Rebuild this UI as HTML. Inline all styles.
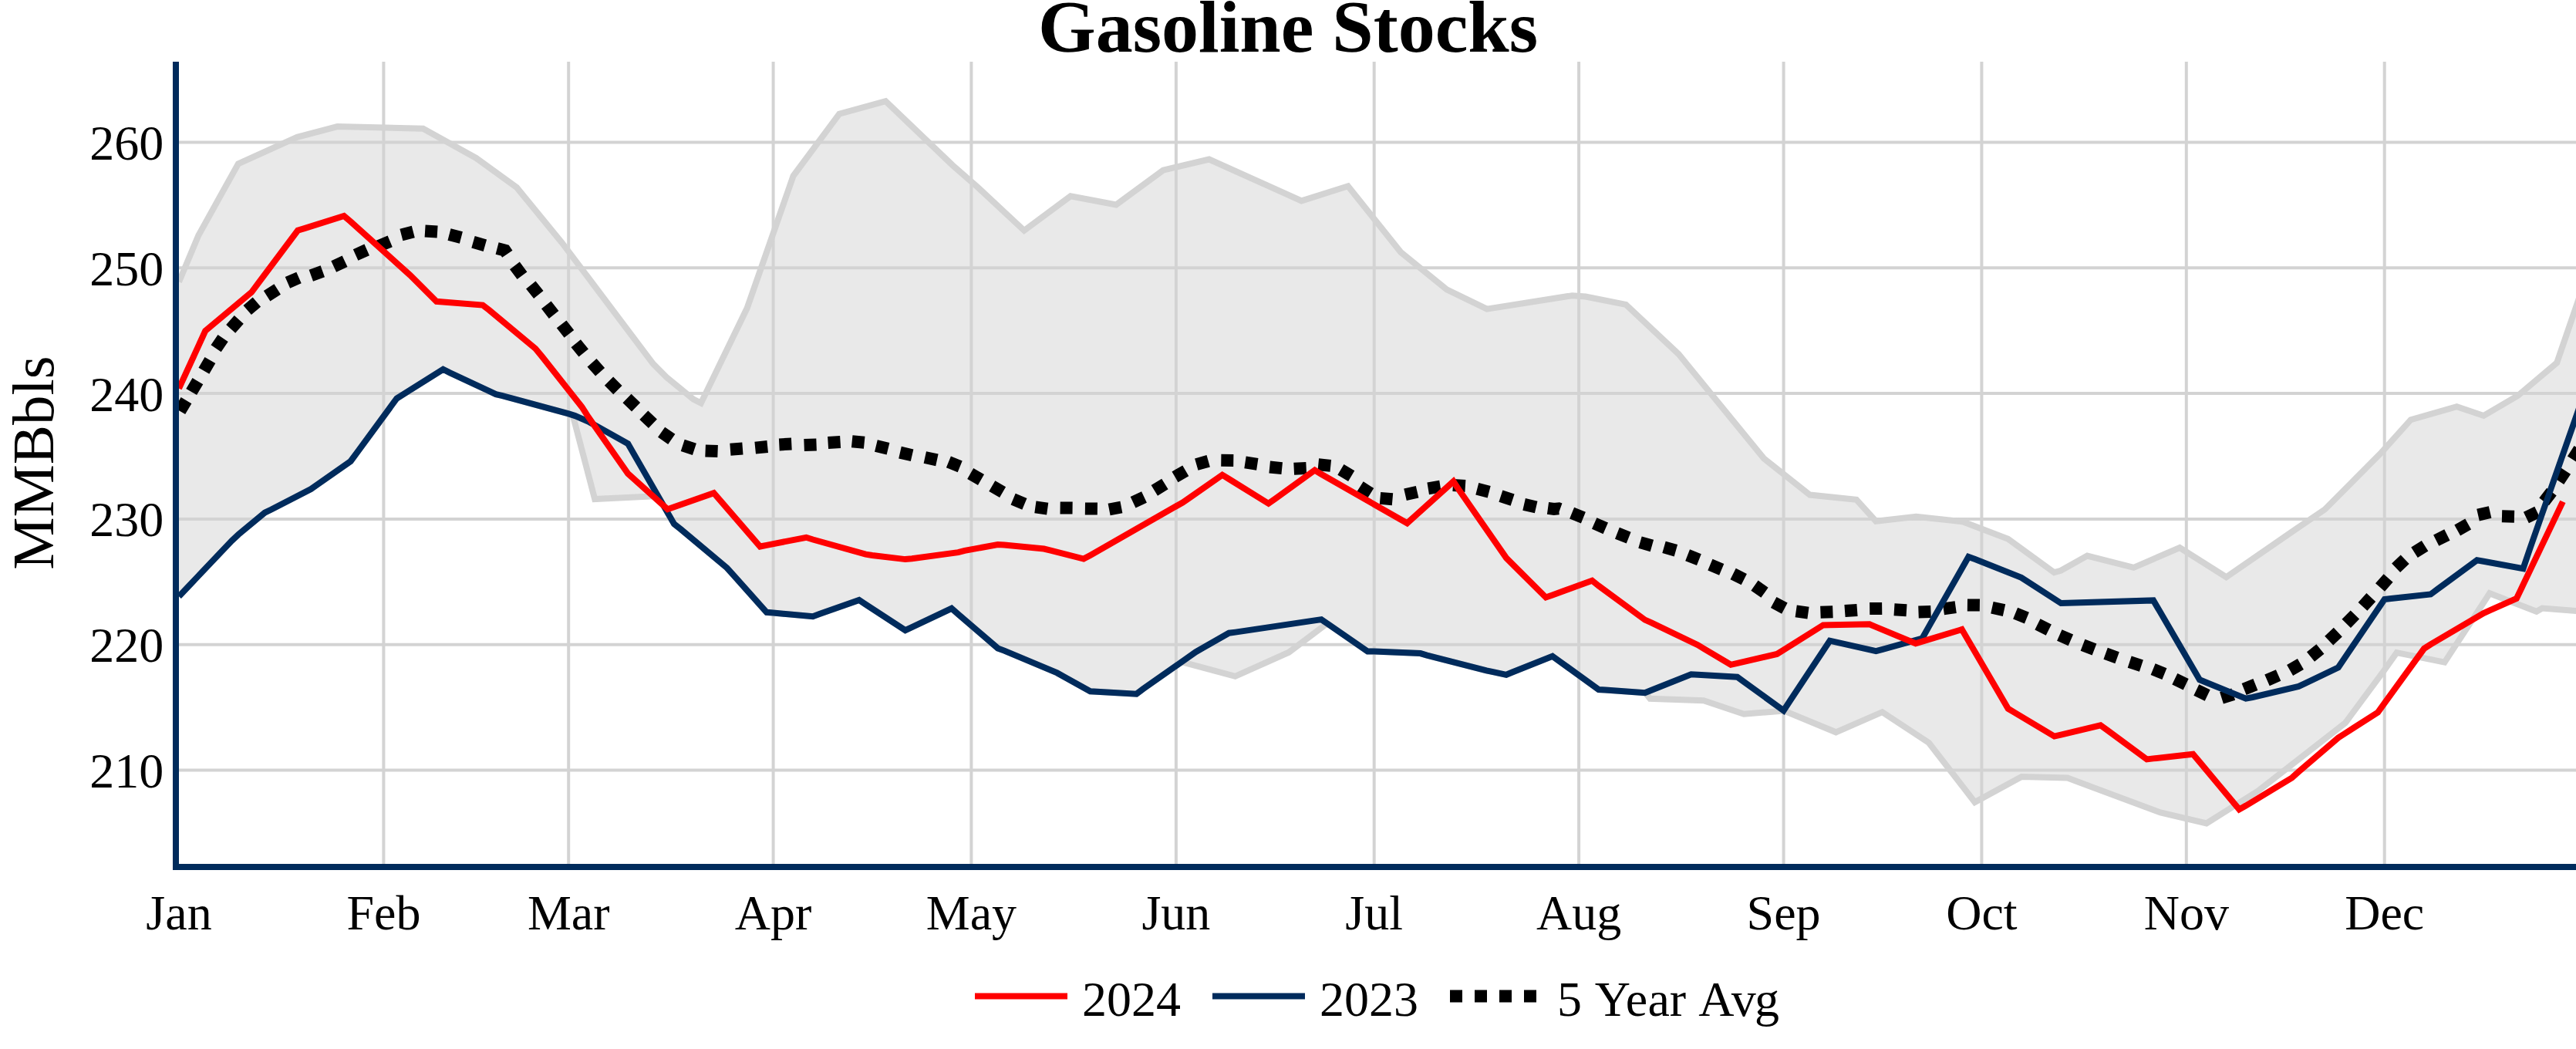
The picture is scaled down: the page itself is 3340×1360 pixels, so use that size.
<!DOCTYPE html>
<html lang="en"><head><meta charset="utf-8"><title>Gasoline Stocks</title>
<style>html,body{margin:0;padding:0;background:#fff}svg{display:block}text{font-family:"Liberation Serif", "Times New Roman", Times, serif;fill:#000}</style></head><body>
<svg width="3340" height="1360" viewBox="0 0 3340 1360">
<rect width="3340" height="1360" fill="#fff"/>
<defs><clipPath id="plot"><rect x="232" y="80" width="3108" height="1040"/></clipPath></defs>
<g stroke="#d3d3d3" stroke-width="4" fill="none">
<line x1="497.4" y1="80" x2="497.4" y2="1120"/>
<line x1="737.2" y1="80" x2="737.2" y2="1120"/>
<line x1="1002.6" y1="80" x2="1002.6" y2="1120"/>
<line x1="1259.4" y1="80" x2="1259.4" y2="1120"/>
<line x1="1524.9" y1="80" x2="1524.9" y2="1120"/>
<line x1="1781.7" y1="80" x2="1781.7" y2="1120"/>
<line x1="2047.1" y1="80" x2="2047.1" y2="1120"/>
<line x1="2312.6" y1="80" x2="2312.6" y2="1120"/>
<line x1="2569.4" y1="80" x2="2569.4" y2="1120"/>
<line x1="2834.8" y1="80" x2="2834.8" y2="1120"/>
<line x1="3091.7" y1="80" x2="3091.7" y2="1120"/>
<line x1="232" y1="998.5" x2="3340" y2="998.5"/>
<line x1="232" y1="835.7" x2="3340" y2="835.7"/>
<line x1="232" y1="672.9" x2="3340" y2="672.9"/>
<line x1="232" y1="510.1" x2="3340" y2="510.1"/>
<line x1="232" y1="347.3" x2="3340" y2="347.3"/>
<line x1="232" y1="184.5" x2="3340" y2="184.5"/>
</g>
<g clip-path="url(#plot)" fill="none" stroke-linejoin="miter" stroke-miterlimit="2">
<path d="M232.0,365.5L257.3,305.2L308.9,212.3L385.2,177.8L437.4,164.1L548.6,166.8L617.4,204.9L669.9,243.0L728.6,314.6L846.8,471.7L864.2,489.1L899.0,517.6L908.9,522.6L968.6,399.6L1028.6,228.0L1088.2,147.7L1148.3,131.1L1234.8,214.0L1268.0,243.0L1327.9,298.9L1388.1,254.2L1447.2,265.4L1508.1,220.7L1567.7,206.5L1687.5,260.4L1747.8,241.3L1816.1,326.8L1875.8,375.3L1927.9,400.6L2038.5,383.2L2055.9,384.5L2108.1,394.9L2176.4,459.0L2287.0,594.4L2346.6,641.6L2407.0,647.8L2432.3,675.7L2484.5,669.7L2545.3,676.4L2603.7,698.8L2663.4,742.2L2672.0,739.8L2706.3,720.6L2766.5,735.8L2826.2,710.0L2886.5,748.2L2973.3,688.4L3014.3,660.5L3087.6,586.7L3125.8,544.2L3185.4,527.2L3220.3,539.0L3264.6,513.0L3315.2,470.3L3340.0,398.1L3352.0,363.0L3352.0,792.5L3340.0,792.0L3296.3,788.6L3288.8,792.8L3228.0,769.2L3169.6,858.6L3107.5,846.2L3090.7,870.0L3041.0,937.1L2927.9,1025.3L2860.9,1067.5L2801.2,1053.4L2680.7,1008.6L2621.2,1007.0L2560.5,1040.0L2500.9,963.0L2440.5,923.2L2380.4,949.3L2313.3,921.5L2261.1,925.7L2208.9,908.3L2139.4,905.8L2133.2,898.1L2132.8,898.2L2081.4,894.6L2072.8,894.0L2021.5,856.9L2012.9,850.7L1961.5,871.3L1953.0,874.8L1935.8,871.1L1927.3,869.3L1850.2,849.6L1841.7,847.1L1781.7,844.6L1773.2,844.6L1723.0,809.8L1719.0,809.5L1671.1,845.7L1601.5,876.8L1532.0,858.2L1482.0,893.3L1473.5,899.7L1422.1,896.8L1413.6,896.3L1379.3,877.2L1370.7,872.4L1302.2,843.6L1293.7,840.4L1242.3,796.2L1233.8,788.8L1182.4,813.2L1173.8,817.2L1122.4,783.6L1113.9,778.0L1062.5,796.1L1054.0,799.2L1002.6,794.5L994.0,793.8L951.2,745.9L942.6,736.3L882.7,686.2L874.1,679.4L853.2,643.0L771.2,647.0L742.6,538.1L737.2,536.4L651.5,513.1L643.0,511.1L583.0,483.1L574.5,478.8L523.1,511.1L514.5,516.5L463.2,586.4L454.6,598.0L411.8,628.0L403.2,634.0L351.9,660.5L343.3,664.6L309.1,693.0L300.5,701.1L232.0,773.2Z" fill="#d3d3d3" fill-opacity="0.5" stroke="none"/>
<path d="M232.0,365.5L257.3,305.2L308.9,212.3L385.2,177.8L437.4,164.1L548.6,166.8L617.4,204.9L669.9,243.0L728.6,314.6L846.8,471.7L864.2,489.1L899.0,517.6L908.9,522.6L968.6,399.6L1028.6,228.0L1088.2,147.7L1148.3,131.1L1234.8,214.0L1268.0,243.0L1327.9,298.9L1388.1,254.2L1447.2,265.4L1508.1,220.7L1567.7,206.5L1687.5,260.4L1747.8,241.3L1816.1,326.8L1875.8,375.3L1927.9,400.6L2038.5,383.2L2055.9,384.5L2108.1,394.9L2176.4,459.0L2287.0,594.4L2346.6,641.6L2407.0,647.8L2432.3,675.7L2484.5,669.7L2545.3,676.4L2603.7,698.8L2663.4,742.2L2672.0,739.8L2706.3,720.6L2766.5,735.8L2826.2,710.0L2886.5,748.2L2973.3,688.4L3014.3,660.5L3087.6,586.7L3125.8,544.2L3185.4,527.2L3220.3,539.0L3264.6,513.0L3315.2,470.3L3340.0,398.1L3352.0,363.0" stroke="#d3d3d3" stroke-width="8"/>
<path d="M232.0,773.2L300.5,701.1L309.1,693.0L343.3,664.6L351.9,660.5L403.2,634.0L411.8,628.0L454.6,598.0L463.2,586.4L514.5,516.5L523.1,511.1L574.5,478.8L583.0,483.1L643.0,511.1L651.5,513.1L737.2,536.4L742.6,538.1L771.2,647.0L853.2,643.0L874.1,679.4L882.7,686.2L942.6,736.3L951.2,745.9L994.0,793.8L1002.6,794.5L1054.0,799.2L1062.5,796.1L1113.9,778.0L1122.4,783.6L1173.8,817.2L1182.4,813.2L1233.8,788.8L1242.3,796.2L1293.7,840.4L1302.2,843.6L1370.7,872.4L1379.3,877.2L1413.6,896.3L1422.1,896.8L1473.5,899.7L1482.0,893.3L1532.0,858.2L1601.5,876.8L1671.1,845.7L1719.0,809.5L1723.0,809.8L1773.2,844.6L1781.7,844.6L1841.7,847.1L1850.2,849.6L1927.3,869.3L1935.8,871.1L1953.0,874.8L1961.5,871.3L2012.9,850.7L2021.5,856.9L2072.8,894.0L2081.4,894.6L2132.8,898.2L2133.2,898.1L2139.4,905.8L2208.9,908.3L2261.1,925.7L2313.3,921.5L2380.4,949.3L2440.5,923.2L2500.9,963.0L2560.5,1040.0L2621.2,1007.0L2680.7,1008.6L2801.2,1053.4L2860.9,1067.5L2927.9,1025.3L3041.0,937.1L3090.7,870.0L3107.5,846.2L3169.6,858.6L3228.0,769.2L3288.8,792.8L3296.3,788.6L3340.0,792.0L3352.0,792.5" stroke="#d3d3d3" stroke-width="8"/>
<path d="M233.3,532.9L241.5,519.1M248.2,508.0L256.4,494.2M264.4,480.7L272.4,466.9M280.1,451.8L289.1,438.6M299.2,426.4L309.8,414.4M320.7,402.0L332.9,391.6M346.1,383.7L359.7,375.1M372.9,366.4L387.5,360.0M403.3,357.2L418.3,351.8M432.7,345.5L447.1,338.7M461.1,330.5L475.7,323.9M490.9,319.1L505.7,312.9M520.4,304.4L535.8,300.4M551.1,299.4L567.1,300.4M582.5,304.1L597.9,308.1M613.5,313.8L628.9,318.2M644.6,322.1L652.3,324.1L654.8,324.7L657.8,329.2M667.4,344.4L677.0,357.2M688.3,369.5L698.3,381.9M708.3,395.4L718.1,408.0M728.1,420.3L737.9,432.9M746.7,445.2L756.7,457.6M767.5,470.3L778.1,482.3M789.5,494.2L800.9,505.6M813.0,516.6L824.6,527.8M834.8,538.2L846.4,549.2M857.6,560.2L870.8,569.4M885.2,577.3L900.4,582.3M914.6,584.4L930.6,585.0M946.9,582.8L962.9,581.6M979.2,580.6L995.2,579.0M1010.3,576.4L1026.3,575.6M1042.6,577.1L1058.6,576.5M1073.6,574.0L1089.6,573.0M1104.7,572.2L1120.7,573.8M1135.9,577.9L1151.5,581.7M1167.0,586.6L1182.6,590.2M1199.3,593.0L1214.9,596.4M1229.9,598.9L1244.7,604.9M1258.2,614.0L1272.0,622.0M1286.3,630.2L1300.1,638.2M1313.6,647.2L1328.4,653.4M1342.4,657.4L1358.2,659.6M1374.6,658.4L1390.6,658.6M1406.9,659.4L1422.9,659.6M1438.1,660.5L1453.9,657.5M1469.1,651.2L1483.5,644.4M1496.8,635.9L1510.4,627.5M1523.5,618.3L1537.3,610.3M1551.3,602.1L1566.7,597.7M1583.3,596.8L1599.3,597.0M1614.5,599.4L1630.3,601.8M1646.2,605.5L1662.2,607.1M1677.7,607.7L1693.7,606.9M1709.3,602.3L1725.3,603.9M1738.4,608.9L1752.2,617.1M1763.4,631.1L1777.0,639.7M1789.5,645.9L1805.5,647.3M1822.0,641.3L1837.6,637.7M1851.7,633.3L1867.5,630.7M1883.9,629.1L1899.9,630.1M1915.3,633.8L1930.7,637.8M1945.9,643.2L1961.1,648.2M1976.1,653.9L1991.7,657.5M2007.0,658.8L2014.9,659.9L2021.1,659.4L2022.8,660.0M2038.1,665.1L2052.9,671.1M2067.2,678.5L2081.8,684.9M2096.9,691.3L2111.7,697.1M2126.5,703.1L2141.9,707.5M2157.5,709.4L2172.9,713.8M2188.1,719.8L2202.9,725.6M2217.4,732.1L2232.2,738.3M2247.1,744.0L2261.3,751.2M2275.0,759.1L2288.0,768.3M2299.7,781.0L2313.9,788.6M2328.7,792.4L2344.5,794.6M2360.4,793.8L2376.4,793.2M2392.0,792.1L2408.0,790.9M2424.2,789.1L2440.2,788.9M2456.0,790.2L2472.0,791.2M2487.5,793.5L2503.5,792.9M2519.9,789.3L2535.7,787.1M2550.9,784.4L2566.9,784.6M2582.9,787.7L2598.5,791.1M2613.1,795.1L2627.9,801.1M2641.9,809.4L2656.3,816.6M2670.3,823.5L2684.9,829.9M2700.5,836.2L2715.5,842.0M2730.1,847.3L2745.1,852.7M2761.2,858.1L2776.4,863.1M2791.6,867.6L2806.4,873.6M2819.8,880.2L2834.2,887.2M2847.8,894.5L2862.2,901.5M2880.5,904.9L2895.7,900.1M2909.6,893.5L2924.4,887.5M2939.5,881.9L2954.1,875.5M2969.1,869.0L2982.9,861.0M2996.0,851.4L3008.4,841.4M3019.7,830.6L3031.3,819.6M3042.2,808.4L3053.4,797.0M3063.5,786.3L3074.3,774.5M3086.0,761.5L3096.6,749.5M3106.6,736.2L3118.2,725.2M3130.5,716.3L3144.1,707.7M3158.7,700.7L3172.9,693.5M3186.2,687.4L3200.2,679.6M3213.0,667.6L3228.6,664.0M3244.0,669.3L3260.0,669.7M3275.4,671.0L3289.8,664.0M3298.6,650.3L3308.4,637.7M3317.6,623.7L3326.4,610.3M3335.7,595.7L3344.3,582.3" stroke="#000" stroke-width="16"/>
<path d="M232.0,773.2L300.5,701.1L309.1,693.0L343.3,664.6L351.9,660.5L403.2,634.0L411.8,628.0L454.6,598.0L463.2,586.4L514.5,516.5L523.1,511.1L574.5,478.8L583.0,483.1L643.0,511.1L651.5,513.1L737.2,536.4L745.7,539.1L762.8,546.5L771.4,551.3L814.2,575.3L822.8,590.2L874.1,679.4L882.7,686.2L942.6,736.3L951.2,745.9L994.0,793.8L1002.6,794.5L1054.0,799.2L1062.5,796.1L1113.9,778.0L1122.4,783.6L1173.8,817.2L1182.4,813.2L1233.8,788.8L1242.3,796.2L1293.7,840.4L1302.2,843.6L1370.7,872.4L1379.3,877.2L1413.6,896.3L1422.1,896.8L1473.5,899.7L1482.0,893.3L1550.5,845.2L1559.1,840.3L1593.4,820.7L1601.9,819.6L1713.2,803.1L1721.8,809.0L1773.2,844.6L1781.7,844.6L1841.7,847.1L1850.2,849.6L1927.3,869.3L1935.8,871.1L1953.0,874.8L1961.5,871.3L2012.9,850.7L2021.5,856.9L2072.8,894.0L2081.4,894.6L2132.8,898.2L2141.3,894.8L2192.7,874.3L2201.3,874.8L2252.6,877.8L2261.2,884.0L2312.6,921.2L2321.1,908.3L2372.5,830.7L2381.1,832.6L2432.4,844.2L2441.0,841.8L2492.4,827.5L2500.9,812.4L2552.3,722.0L2560.9,725.1L2620.8,748.9L2629.4,754.4L2672.2,782.0L2680.7,781.7L2792.0,778.4L2800.6,793.1L2852.0,881.3L2860.5,884.8L2911.9,905.7L2920.5,904.0L2980.4,889.9L2989.0,885.8L3031.8,865.3L3040.3,852.7L3091.7,777.0L3100.3,776.1L3151.6,770.4L3160.2,764.1L3211.6,726.2L3220.1,727.8L3271.5,737.1L3280.1,711.8L3365.7,467.2L3374.2,444.0L3391.4,397.8" stroke="#002b5c" stroke-width="8"/>
<path d="M232.0,503.7L266.2,429.0L274.8,421.8L326.2,378.8L334.7,367.4L386.1,298.8L394.7,296.1L446.0,280.0L454.6,287.3L531.7,356.7L540.2,365.2L565.9,390.8L574.5,391.5L625.9,395.6L634.4,402.1L694.3,452.0L702.9,462.4L754.3,527.4L762.8,540.6L814.2,614.1L822.8,621.8L865.6,660.3L874.1,657.3L925.5,639.2L934.1,649.1L985.5,708.5L994.0,706.8L1045.4,696.8L1054.0,699.5L1122.4,718.6L1131.0,720.0L1173.8,725.1L1182.4,724.3L1242.3,716.1L1250.9,713.9L1293.7,706.0L1302.2,706.5L1353.6,711.5L1362.2,713.6L1405.0,724.6L1413.6,719.9L1533.4,651.5L1542.0,645.6L1584.8,615.7L1593.4,621.0L1644.7,652.8L1653.3,646.7L1704.7,609.6L1713.2,614.8L1824.5,678.3L1833.1,670.6L1884.5,624.2L1893.0,637.1L1953.0,723.4L1961.5,731.9L2004.3,774.5L2012.9,771.4L2064.3,752.7L2072.8,759.5L2132.8,803.6L2141.3,807.3L2201.3,836.2L2209.8,841.4L2244.1,861.8L2252.6,859.9L2304.0,848.0L2312.6,842.7L2363.9,810.4L2372.5,810.3L2423.9,809.3L2432.4,812.9L2483.8,834.3L2492.4,831.7L2543.7,816.1L2552.3,830.8L2603.7,918.8L2612.2,923.9L2663.6,954.6L2672.2,952.6L2723.5,940.3L2732.1,946.6L2783.5,984.4L2792.0,983.4L2843.4,977.7L2852.0,987.9L2903.3,1049.4L2911.9,1044.6L2971.8,1008.3L2980.4,1000.6L3031.8,956.5L3040.3,951.0L3083.1,923.6L3091.7,911.7L3143.1,840.8L3151.6,835.3L3220.1,795.0L3228.7,791.2L3262.9,776.0L3271.5,758.1L3322.9,650.4" stroke="#ff0000" stroke-width="8"/>
</g>
<path d="M228,80V1124" stroke="#002b5c" stroke-width="8" fill="none"/>
<path d="M224,1124H3340" stroke="#002b5c" stroke-width="8" fill="none"/>
<text x="212.3" y="1021.0" font-size="64" text-anchor="end">210</text>
<text x="212.3" y="858.2" font-size="64" text-anchor="end">220</text>
<text x="212.3" y="695.4" font-size="64" text-anchor="end">230</text>
<text x="212.3" y="532.6" font-size="64" text-anchor="end">240</text>
<text x="212.3" y="369.8" font-size="64" text-anchor="end">250</text>
<text x="212.3" y="207.0" font-size="64" text-anchor="end">260</text>
<text x="232.0" y="1204.5" font-size="64" text-anchor="middle">Jan</text>
<text x="497.4" y="1204.5" font-size="64" text-anchor="middle">Feb</text>
<text x="737.2" y="1204.5" font-size="64" text-anchor="middle">Mar</text>
<text x="1002.6" y="1204.5" font-size="64" text-anchor="middle">Apr</text>
<text x="1259.4" y="1204.5" font-size="64" text-anchor="middle">May</text>
<text x="1524.9" y="1204.5" font-size="64" text-anchor="middle">Jun</text>
<text x="1781.7" y="1204.5" font-size="64" text-anchor="middle">Jul</text>
<text x="2047.1" y="1204.5" font-size="64" text-anchor="middle">Aug</text>
<text x="2312.6" y="1204.5" font-size="64" text-anchor="middle">Sep</text>
<text x="2569.4" y="1204.5" font-size="64" text-anchor="middle">Oct</text>
<text x="2834.8" y="1204.5" font-size="64" text-anchor="middle">Nov</text>
<text x="3091.7" y="1204.5" font-size="64" text-anchor="middle">Dec</text>
<text x="1670" y="67" font-size="96" font-weight="bold" text-anchor="middle">Gasoline Stocks</text>
<text transform="translate(68.5,600) rotate(-90)" font-size="76.8" text-anchor="middle">MMBbls</text>
<path d="M1264,1291.5H1384" stroke="#ff0000" stroke-width="8"/>
<text x="1403" y="1317" font-size="64">2024</text>
<path d="M1572,1291.5H1692" stroke="#002b5c" stroke-width="8"/>
<text x="1711" y="1317" font-size="64">2023</text>
<path d="M1880,1291.5H2000" stroke="#000" stroke-width="16" stroke-dasharray="16,16"/>
<text x="2019" y="1317" font-size="64" style="font-kerning:none" dx="0 0 0.7 -6.1 0.3 -0.3 0 0.2 -3.5 -1.9">5 Year Avg</text>
</svg></body></html>
